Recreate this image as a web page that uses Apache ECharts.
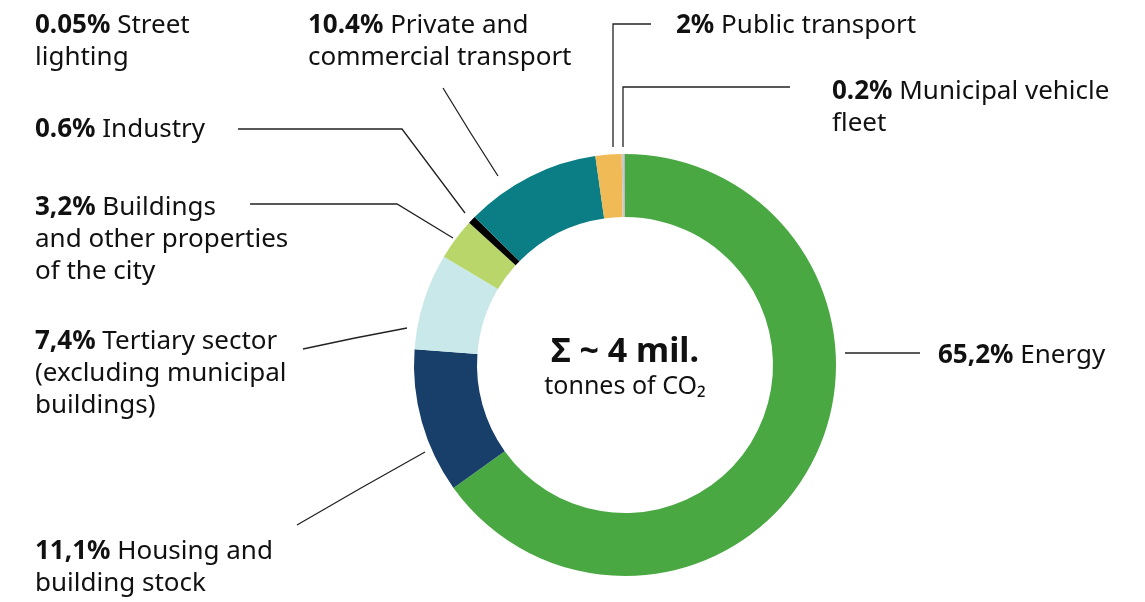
<!DOCTYPE html>
<html>
<head>
<meta charset="utf-8">
<script src="https://cdn.jsdelivr.net/npm/echarts@6/dist/echarts.min.js"></script>
<style>
  html, body { margin: 0; padding: 0; background: #fff; }
  #main { width: 1145px; height: 602px; }
</style>
</head>
<body>
<div id="main"></div>
<script>
// data, clockwise from 12 o'clock
const categories = [
  'Energy',
  'Housing and\nbuilding stock',
  'Tertiary sector\n(excluding municipal\nbuildings)',
  'Buildings\nand other properties\nof the city',
  'Industry',
  'Private and\ncommercial transport',
  'Public transport',
  'Municipal vehicle\nfleet',
  'Street\nlighting'
];
const values = [65.2, 11.1, 7.4, 3.2, 0.6, 10.4, 2, 0.2, 0.05];
const pctLabels = ['65,2%', '11,1%', '7,4%', '3,2%', '0.6%', '10.4%', '2%', '0.2%', '0.05%'];
const colors = ['#4aa843', '#173f6a', '#c9e8ea', '#b9d66b', '#000000', '#0b7e85', '#f0ba56', '#c9c9c9', '#9a9a9a'];

// label placement + leader lines (layout only)
const labelPos = [
  { x: 938, y: 340, line: [[845, 353], [882, 353], [920, 353]] },
  { x: 35, y: 536, line: [[425, 452], [361, 488], [297, 525]] },
  { x: 35, y: 326, line: [[407, 328], [355, 338], [303, 349]] },
  { x: 35, y: 192, line: [[453, 238], [397, 204], [250, 204]] },
  { x: 35, y: 114, line: [[465, 213], [402, 129], [238, 129]] },
  { x: 308, y: 10, line: [[498, 176], [470, 132], [443, 88]] },
  { x: 676, y: 10, line: [[613, 147], [613, 24], [651, 24]] },
  { x: 832, y: 76, line: [[623, 147], [623, 87], [790, 87]] },
  { x: 35, y: 10, line: null }
];

const FONT = '"Noto Sans"';

const chart = echarts.init(document.getElementById('main'));

const seriesData = categories.map((name, i) => ({
  name: name,
  value: values[i],
  itemStyle: { color: colors[i] },
  labelLine: { show: labelPos[i].line != null }
}));

chart.setOption({
  animation: false,
  graphic: [
    {
      type: 'text',
      x: 625, y: 352,
      style: {
        text: 'Σ ~ 4 mil.',
        align: 'center', verticalAlign: 'middle',
        font: 'bold 34px ' + FONT,
        fill: '#111'
      }
    },
    {
      type: 'text',
      x: 625, y: 387,
      style: {
        text: 'tonnes of CO₂',
        align: 'center', verticalAlign: 'middle',
        font: '25px ' + FONT,
        fill: '#111'
      }
    }
  ],
  series: [
    {
      type: 'pie',
      center: [625, 365],
      radius: [148, 211],
      startAngle: 90,
      clockwise: true,
      silent: true,
      data: seriesData,
      label: {
        show: true,
        position: 'outside',
        color: '#111',
        fontFamily: FONT,
        fontSize: 26,
        lineHeight: 32,
        formatter: (p) => '{p|' + pctLabels[p.dataIndex] + '} ' + p.name,
        rich: {
          p: { fontFamily: FONT, fontSize: 26, fontWeight: 'bold', lineHeight: 32, color: '#111' }
        }
      },
      labelLine: {
        show: true,
        lineStyle: { color: '#222', width: 1.3 }
      },
      labelLayout: (params) => {
        const pos = labelPos[params.dataIndex];
        const out = { x: pos.x, y: pos.y, align: 'left', verticalAlign: 'top', hideOverlap: false };
        if (pos.line) out.labelLinePoints = pos.line;
        return out;
      }
    }
  ]
});
</script>
</body>
</html>
